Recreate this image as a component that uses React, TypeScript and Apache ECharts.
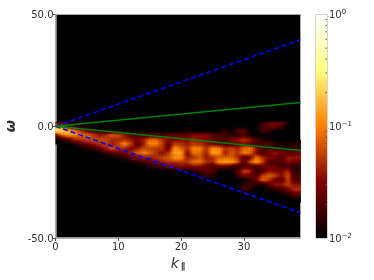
import React, { useEffect, useRef } from "react";
import * as echarts from "echarts";

const yTicks = [-50, 0, 50];
const xTicks = [0, 10, 20, 30];
const barMinor = [0.02, 0.03, 0.04, 0.05, 0.06, 0.07, 0.08, 0.09, 0.2, 0.3, 0.4, 0.5, 0.6, 0.7, 0.8, 0.9];
const colorStops: [number, string][] = [
  [0, "#000000"], [0.25, "#800000"], [0.5, "#ff8000"], [0.75, "#ffff80"], [1, "#ffffff"],
];
const lineK = [0, 39];
const blueUp = [0, 38.7];
const blueDown = [0, -38.7];
const greenUp = [0, 10.6];
const greenDown = [0, -10.8];

const omegas = [2, 0, -2, -4, -6, -8, -10, -12, -14, -16, -18, -20, -22, -24, -26, -28, -30, -32, -34];
// power in units of 0.01, one row per omega, one column per k (0..38)
const power = [
  [1.5,1.2,1,1,1,1,1,1,1,1,1,1,1,1,1,1,1,1,1,1,1,1,1,1,1,1,1,1,1,1,1,1,1,1.3,2,2.5,2.5,1.3,1],
  [16,8,2.5,1.3,1,1,1,1,1,1,1,1,1,1,1,1,1,1,1,1,1,1,1,1,1,1,1,1,1,1,1,1,1,2,3,3,2,1,1],
  [28,26,16,9,5,3,2,1.3,1.1,1,1,1,1,1,1,1,1,1,1,1,1,1.3,1,1,1,1,1,1.6,1,2,2.5,1,1,2,1.6,1,1,1,1],
  [2.5,8,13,12,9,8,6,4,5,8,7,4,2.5,2,2,2,2,2,2.5,2.5,2.5,2.5,3.5,3.5,3.5,2.5,2,2,1.5,1.5,2,1.2,1,1,1,1,1,1,1],
  [1,1.3,2,4,5,6,6,6,6,4.5,4.5,5,4,3,4,8,8,5,3.5,3,3.5,3.5,4.5,3.5,3,2.5,2,2,3,4,5,4,1.8,1.5,1.2,1.1,1,1,1],
  [1,1,1,1.3,2,2.5,4,5,6,4,6,12,6,2.2,4,11,11,6,2.5,6,5,4,5.5,5,4,3,2.5,2,2,2.5,3.5,2.5,1.7,2,2,1.5,1.2,1.2,1.5],
  [1,1,1,1,1.1,1.3,1.6,2.5,4,7,5,4.5,3,4,6,5.5,5,5,2.5,12,8,5,11,10,5,11,11,5,6,4.5,8,10,4,2,2,1.7,1.5,1.5,1.7],
  [1,1,1,1,1,1,1,1,1.6,2,2.5,3,4.5,7,10,8,5,3.5,5,14,13,3,9,8,4,14,13,4,7,5,10,8,3,2,3,4,3,2.5,2.5],
  [1,1,1,1,1,1,1,1,1,1,1.3,1.6,2,3,4,4,5,6,7,13,12,4,5,7,4,5,7,8,8,5,2,3,9,5,3,3,2,4,4],
  [1,1,1,1,1,1,1,1,1,1,1,1,1.2,1.5,1.8,2.5,3,4,5,5,5,5,9,9,5,4,12,14,13,7,2,7,13,6,2,2,2,3.5,2.5],
  [1,1,1,1,1,1,1,1,1,1,1,1,1,1,1.1,1.2,1.7,2,2.8,3,3.5,3,3.5,3.5,2.5,2,2.5,2.5,2,1.5,2,2,2,2.5,3,2.5,1.8,2,1.5],
  [1,1,1,1,1,1,1,1,1,1,1,1,1,1,1,1,1,1,1,1.2,1.2,1.2,1.3,1.7,2.5,2,1.2,1,1,2,6,4.5,1.5,2,3.5,3,3,4.5,1.5],
  [1,1,1,1,1,1,1,1,1,1,1,1,1,1,1,1,1,1,1,1,1,1,1,1.2,1.8,1.5,1,1,1,1.8,3.5,3,2,6,8,6,3.5,7,2],
  [1,1,1,1,1,1,1,1,1,1,1,1,1,1,1,1,1,1,1,1,1,1,1,1,1,1,1,1,1,1,1,1.5,3,8,5,2.5,2,6,2],
  [1,1,1,1,1,1,1,1,1,1,1,1,1,1,1,1,1,1,1,1,1,1,1,1,1,1,1,1,1,1,1.6,2,1.3,1.3,2.5,4,4,6,3.5],
  [1,1,1,1,1,1,1,1,1,1,1,1,1,1,1,1,1,1,1,1,1,1,1,1,1,1,1,1,1,1,2,1.6,1,1,1.3,1.6,2,3,5],
  [1,1,1,1,1,1,1,1,1,1,1,1,1,1,1,1,1,1,1,1,1,1,1,1,1,1,1,1,1,1,1,1,1,1,1,1,1.3,1.6,3],
  [1,1,1,1,1,1,1,1,1,1,1,1,1,1,1,1,1,1,1,1,1,1,1,1,1,1,1,1,1,1,1,1,1,1,1,1,1,1,1.3],
  [1,1,1,1,1,1,1,1,1,1,1,1,1,1,1,1,1,1,1,1,1,1,1,1,1,1,1,1,1,1,1,1,1,1,1,1,1,1,1],
];

const textColor = "#333333";
const spine = "#aaaaaa";

function colorAt(t: number): string {
  const c = Math.max(0, Math.min(1, t));
  const ch = (v: number) => Math.round(255 * Math.max(0, Math.min(1, v)));
  return `rgb(${ch(2 * c)},${ch(2 * c - 0.5)},${ch(2 * c - 1)})`;
}
const logPos = (pct: number) => Math.log10(Math.max(pct, 1)) / 2; // 1 -> 0, 100 -> 1

const cells: number[][] = [];
omegas.forEach((w, r) => power[r].forEach((_, k) => cells.push([k, w, r])));

const SUB = 4;
function renderCell(_: any, api: any) {
  const k = api.value(0);
  const w = api.value(1);
  const r = api.value(2);
  const rowA = power[r];
  const rowB = power[Math.min(r + 1, power.length - 1)];
  const a = logPos(rowA[k]);
  const b = logPos(rowA[Math.min(k + 1, 38)]);
  const c = logPos(rowB[k]);
  const d = logPos(rowB[Math.min(k + 1, 38)]);
  if (a + b + c + d === 0) return null;
  const children: any[] = [];
  const p0 = api.coord([k, w]);
  const p1 = api.coord([k + 1, w - 2]);
  const dx = (p1[0] - p0[0]) / SUB;
  const dy = (p1[1] - p0[1]) / SUB;
  for (let i = 0; i < SUB; i++) {
    for (let j = 0; j < SUB; j++) {
      const u = (i + 0.5) / SUB;
      const v = (j + 0.5) / SUB;
      const t = (a * (1 - u) + b * u) * (1 - v) + (c * (1 - u) + d * u) * v;
      children.push({
        type: "rect",
        shape: { x: p0[0] + i * dx, y: p0[1] + j * dy, width: dx + 0.4, height: dy + 0.4 },
        style: { fill: colorAt(t) },
      });
    }
  }
  return { type: "group", children };
}

function lineSeries(values: number[], color: string, dashed: boolean) {
  return {
    type: "line",
    data: lineK.map((k, i) => [k, values[i]]),
    showSymbol: false,
    silent: true,
    z: 5,
    lineStyle: dashed
      ? { color, width: 1.6, type: [5, 3] as any }
      : { color, width: 1.5 },
  };
}

export default function App() {
  const ref = useRef<HTMLDivElement>(null);
  useEffect(() => {
    document.body.style.margin = "0";
    const chart = echarts.init(ref.current!, undefined, { renderer: "svg" });
    chart.setOption({
      animation: false,
      textStyle: { fontFamily: "DejaVu Sans" },
      grid: [
        { left: 55.5, top: 14.5, width: 245, height: 223.5, outerBoundsMode: "none", show: true, backgroundColor: "#000000", borderColor: spine, borderWidth: 1 },
        { left: 316, top: 14.5, width: 11, height: 223.5, outerBoundsMode: "none", show: true, backgroundColor: "transparent", borderColor: spine, borderWidth: 1 },
      ],
      xAxis: [
        {
          type: "value", gridIndex: 0, min: 0, max: 39,
          splitLine: { show: false },
          axisLine: { show: true, onZero: false, lineStyle: { color: spine, width: 1.5 } },
          axisTick: { show: true, customValues: xTicks, length: 3, lineStyle: { color: "#555555" } },
          axisLabel: { customValues: xTicks, color: textColor, fontSize: 10, margin: 3 },
          name: "{k|k}{s|∥}",
          nameLocation: "middle",
          nameGap: 16,
          nameTextStyle: {
            rich: {
              k: { fontSize: 14, fontStyle: "italic", color: textColor, fontFamily: "DejaVu Sans" },
              s: { fontSize: 9, color: textColor, verticalAlign: "bottom", fontWeight: "bold", fontFamily: "DejaVu Sans", padding: [6, 0, 0, 2] },
            },
          },
        },
        { type: "value", gridIndex: 1, min: 0, max: 1, show: false },
      ],
      yAxis: [
        {
          type: "value", gridIndex: 0, min: -50, max: 50, interval: yTicks[2],
          splitLine: { show: false },
          axisLine: { show: true, onZero: false, lineStyle: { color: spine, width: 1.5 } },
          axisTick: { show: true, length: 3, lineStyle: { color: "#555555" } },
          axisLabel: { color: textColor, fontSize: 10, margin: 2, formatter: (v: number) => v.toFixed(1) },
          name: "ω",
          nameLocation: "middle",
          nameGap: 26,
          nameTextStyle: { fontSize: 14, fontStyle: "italic", color: textColor, fontWeight: "bold" },
        },
        {
          type: "log", logBase: 10, gridIndex: 1, min: 0.01, max: 1, position: "right",
          splitLine: { show: false },
          minorTick: { show: false },
          axisLine: { show: true, lineStyle: { color: spine, width: 1 } },
          axisTick: { show: false },
          axisLabel: {
            margin: 2,
            formatter: (v: number) => `{b|10}{s|${Math.round(Math.log10(v)) === 0 ? "0" : "−" + Math.abs(Math.round(Math.log10(v)))}}`,
            rich: {
              b: { fontSize: 10, color: textColor, fontFamily: "DejaVu Sans" },
              s: { fontSize: 7, color: textColor, verticalAlign: "top", fontFamily: "DejaVu Sans", padding: [0, 0, 5, 0] },
            },
          },
        },
      ],
      series: [
        {
          type: "custom", xAxisIndex: 0, yAxisIndex: 0, data: cells, silent: true, clip: true, z: 2,
          encode: { x: 0, y: 1 },
          renderItem: renderCell,
        },
        { ...lineSeries(blueUp, "#0000ff", true), xAxisIndex: 0, yAxisIndex: 0 },
        { ...lineSeries(blueDown, "#0000ff", true), xAxisIndex: 0, yAxisIndex: 0 },
        { ...lineSeries(greenUp, "#008000", false), xAxisIndex: 0, yAxisIndex: 0 },
        { ...lineSeries(greenDown, "#008000", false), xAxisIndex: 0, yAxisIndex: 0 },
        {
          type: "custom", xAxisIndex: 1, yAxisIndex: 1, data: [[0, 0.01, 1, 1]], silent: true, z: 1,
          encode: { x: 0, y: 1 },
          renderItem: (_: any, api: any) => {
            const a = api.coord([0, 0.01]);
            const b = api.coord([1, 1]);
            return {
              type: "rect",
              shape: { x: a[0], y: b[1], width: b[0] - a[0], height: a[1] - b[1] },
              style: {
                fill: new echarts.graphic.LinearGradient(0, 1, 0, 0,
                  colorStops.map(([offset, color]) => ({ offset, color }))),
              },
            };
          },
        },
        {
          type: "custom", xAxisIndex: 1, yAxisIndex: 1, data: barMinor.map((v) => [1, v]), silent: true, z: 3,
          encode: { x: 0, y: 1 },
          renderItem: (_: any, api: any) => {
            const p = api.coord([api.value(0), api.value(1)]);
            return {
              type: "line",
              shape: { x1: p[0] - 1.5, y1: p[1], x2: p[0], y2: p[1] },
              style: { stroke: "#555555", lineWidth: 1 },
            };
          },
        },
      ],
    });
    return () => chart.dispose();
  }, []);
  return <div ref={ref} style={{ position: "fixed", left: 0, top: 0, width: 374, height: 280 }} />;
}
